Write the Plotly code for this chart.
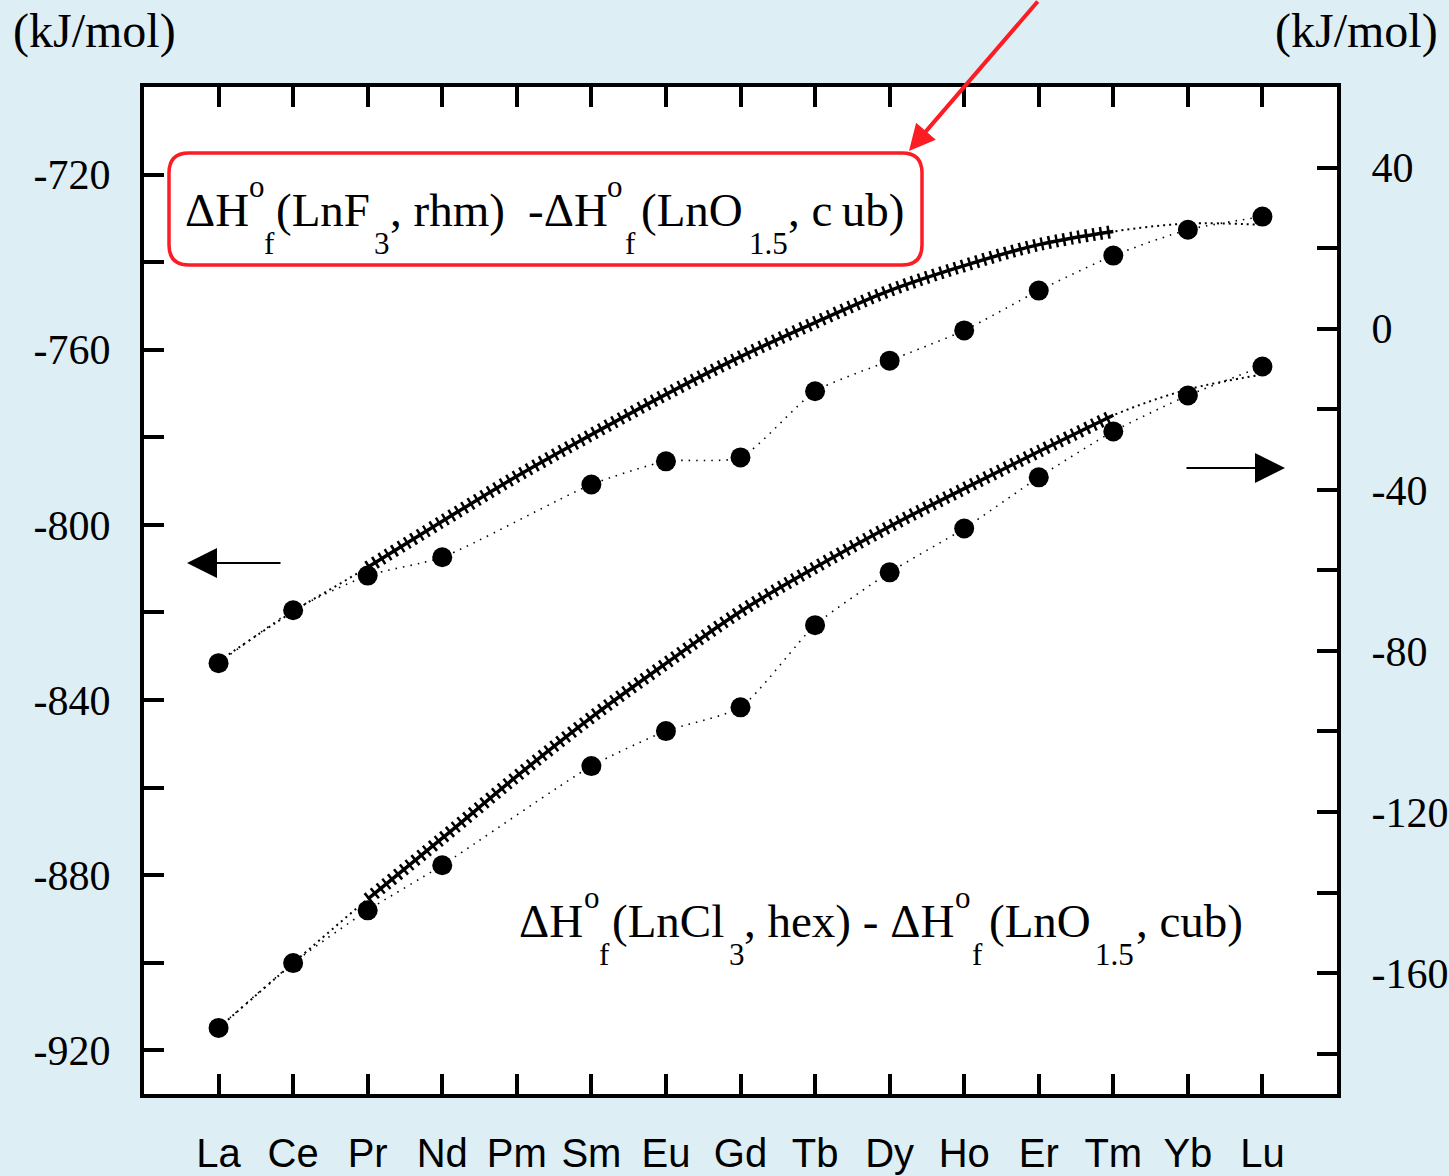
import plotly.graph_objects as go

# Lanthanide series along the x axis
elements = ["La", "Ce", "Pr", "Nd", "Pm", "Sm", "Eu", "Gd", "Tb", "Dy", "Ho", "Er", "Tm", "Yb", "Lu"]

# ΔHf(LnF3, rhm) - ΔHf(LnO1.5, cub), kJ/mol (left axis); Pm has no value
fluoride_diff = [-831.6, -819.5, -811.6, -807.4, None, -790.8, -785.5, -784.6,
                 -769.5, -762.5, -755.6, -746.5, -738.5, -732.6, -729.6]
# smooth trend through the fluoride series
fluoride_fit = [-831.2, -819.8, -809.7, -799.2, -788.9, -779.4, -770.2, -761.6,
                -753.8, -746.5, -740.8, -736.0, -733.0, -731.2, -731.5]

# ΔHf(LnCl3, hex) - ΔHf(LnO1.5, cub), kJ/mol (right axis)
chloride_diff = [-173.6, -157.5, -144.4, -133.2, None, -108.6, -99.9, -94.0,
                 -73.6, -60.5, -49.6, -36.9, -25.5, -16.6, -9.4]
chloride_fit = [-173.6, -157.5, -141.6, -126.5, -111.1, -96.5, -83.1, -70.2,
                -59.3, -49.1, -39.7, -30.5, -21.5, -15.1, -11.4]

left_ticks = list(range(-920, -700, 20))
right_ticks = list(range(-180, 60, 20))
left_text = [str(v) if v % 40 == 0 else "" for v in left_ticks]
right_text = [str(v) if v % 40 == 0 else "" for v in right_ticks]

x = list(range(len(elements)))
hatch = slice(2, 13)  # Pr .. Tm drawn as the hatched trend

SERIF = "Liberation Serif, Times New Roman, serif"
SANS = "Liberation Sans, Arial, sans-serif"
RED = "#fb1c24"
BG = "#ddeef5"

W, H = 1449, 1176
L, R, T, B = 144, 1337, 87, 1094


def px(v):
    return (v - L) / (R - L)


def py(v):
    return (B - v) / (B - T)


fig = go.Figure()


def add_series(data, fit, yaxis):
    # full-length dotted trend
    fig.add_trace(go.Scatter(x=x, y=fit, yaxis=yaxis, mode="lines",
                             line=dict(color="black", width=2, dash="2px,4px", shape="spline"),
                             hoverinfo="skip"))
    # hatched trend: spine plus short cross bars
    fig.add_trace(go.Scatter(x=x[hatch], y=fit[hatch], yaxis=yaxis, mode="lines",
                             line=dict(color="black", width=3.5, shape="spline"),
                             hoverinfo="skip"))
    fig.add_trace(go.Scatter(x=x[hatch], y=fit[hatch], yaxis=yaxis, mode="lines",
                             line=dict(color="black", width=13, dash="2.5px,5px", shape="spline"),
                             hoverinfo="skip"))
    # measured differences
    fig.add_trace(go.Scatter(x=x, y=data, yaxis=yaxis, mode="lines+markers",
                             connectgaps=True,
                             line=dict(color="black", width=1.6, dash="1.5px,6px",
                                       shape="spline", smoothing=0.6),
                             marker=dict(color="black", size=20, symbol="circle")))


add_series(fluoride_diff, fluoride_fit, "y")
add_series(chloride_diff, chloride_fit, "y2")

axis_common = dict(ticks="inside", ticklen=20, tickwidth=4, tickcolor="black",
                   showline=True, linewidth=4, linecolor="black",
                   showgrid=False, zeroline=False, automargin=False)

fig.update_layout(
    width=W, height=H,
    margin=dict(l=L, r=W - R, t=T, b=H - B, autoexpand=False),
    paper_bgcolor=BG, plot_bgcolor="white",
    showlegend=False,
    xaxis=dict(range=[-1, 15], tickmode="array", tickvals=x, ticktext=elements,
               tickfont=dict(family=SANS, size=40, color="black"),
               ticklabelstandoff=21, mirror="ticks", **axis_common),
    yaxis=dict(range=[-930, -700], tickmode="array", tickvals=left_ticks, ticktext=left_text,
               tickfont=dict(family=SERIF, size=42, color="black"),
               ticklabelstandoff=21, **axis_common),
    yaxis2=dict(range=[-190, 60], tickmode="array", tickvals=right_ticks, ticktext=right_text,
                overlaying="y", side="right",
                tickfont=dict(family=SERIF, size=42, color="black"),
                ticklabelstandoff=22, **axis_common),
)

# rounded frame around the fluoride label
x0, x1, y0, y1 = px(169), px(922), py(265), py(153)
rx, ry = 20 / (R - L), 20 / (B - T)
path = (f"M {x0 + rx},{y1} L {x1 - rx},{y1} Q {x1},{y1} {x1},{y1 - ry} "
        f"L {x1},{y0 + ry} Q {x1},{y0} {x1 - rx},{y0} L {x0 + rx},{y0} "
        f"Q {x0},{y0} {x0},{y0 + ry} L {x0},{y1 - ry} Q {x0},{y1} {x0 + rx},{y1} Z")
fig.add_shape(type="path", path=path, xref="paper", yref="paper",
              line=dict(color=RED, width=3.5), fillcolor="rgba(0,0,0,0)", layer="above")

# unit labels above both value axes
for cx in (94, 1357):
    fig.add_annotation(xref="paper", yref="paper", x=px(cx), y=py(31), showarrow=False,
                       text="(kJ/mol)", xanchor="center", yanchor="middle",
                       font=dict(family=SERIF, size=48, color="black"))

# formula labels, typeset piece by piece: (text, left edge, level)
MAIN, SUP, SUB = 47, 31, 31
fluoride_label = [("ΔH", 183, "main"), ("o", 247, "sup"), ("f", 262, "sub"),
                  ("(LnF", 274, "main"), ("3", 372, "sub"), (", rhm)", 388, "main"),
                  ("-ΔH", 526, "main"),
                  ("o", 605, "sup"), ("f", 623, "sub"), ("(LnO", 639, "main"),
                  ("1.5", 747, "sub"), (", c\u2009ub)", 786, "main")]
chloride_label = [("ΔH", 517, "main"), ("o", 582, "sup"), ("f", 597, "sub"),
                  ("(LnCl", 610, "main"), ("3", 727, "sub"), (", hex) - ΔH", 742, "main"),
                  ("o", 953, "sup"), ("f", 970, "sub"), ("(LnO", 987, "main"),
                  ("1.5", 1093, "sub"), (", cub)", 1134, "main")]


def place_label(pieces, main_y):
    offsets = {"main": (0, MAIN), "sup": (-24, SUP), "sub": (33, SUB)}
    for text, left, level in pieces:
        dy, size = offsets[level]
        fig.add_annotation(xref="paper", yref="paper", x=px(left), y=py(main_y + dy),
                           showarrow=False, text=text, xanchor="left", yanchor="middle",
                           font=dict(family=SERIF, size=size, color="black"))


place_label(fluoride_label, 210)
place_label(chloride_label, 921)

# axis pointers and the callout arrow
fig.add_annotation(xref="paper", yref="paper", x=px(187), y=py(563), ax=95, ay=0,
                   text="", showarrow=True, arrowhead=2, arrowsize=3, arrowwidth=2,
                   arrowcolor="black")
fig.add_annotation(xref="paper", yref="paper", x=px(1285), y=py(468), ax=-100, ay=0,
                   text="", showarrow=True, arrowhead=2, arrowsize=3, arrowwidth=2,
                   arrowcolor="black")
fig.add_annotation(xref="paper", yref="paper", x=px(909), y=py(151), ax=130, ay=-165,
                   text="", showarrow=True, arrowhead=2, arrowsize=1.3, arrowwidth=4,
                   arrowcolor=RED)

fig.write_html("out.html")
